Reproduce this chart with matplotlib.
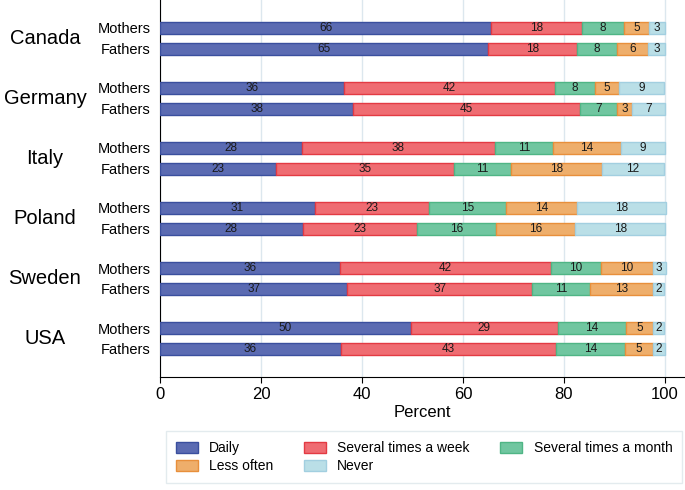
import matplotlib
matplotlib.use("Agg")
import matplotlib.pyplot as plt
import numpy as np
from matplotlib.patches import Patch

plt.rcParams['font.family'] = ['Liberation Sans', 'DejaVu Sans']

countries = ['Canada', 'Germany', 'Italy', 'Poland', 'Sweden', 'USA']
parents = ['Mothers', 'Fathers']
categories = ['Daily', 'Several times a week', 'Several times a month', 'Less often', 'Never']

# one row per country, mothers then fathers
daily = [65.6, 65.0, 36.4, 38.3, 28.1, 23.0, 30.7, 28.3, 35.7, 37.1, 49.7, 35.8]
weekly = [18.0, 17.6, 41.9, 44.9, 38.3, 35.3, 22.6, 22.7, 41.7, 36.6, 29.1, 42.6]
monthly = [8.4, 7.9, 7.9, 7.3, 11.4, 11.2, 15.2, 15.6, 9.9, 11.4, 13.6, 13.8]
less_often = [4.8, 6.2, 4.7, 3.0, 13.6, 18.0, 14.2, 15.7, 10.3, 12.6, 5.2, 5.4]
never = [3.2, 3.3, 8.9, 6.6, 8.6, 12.4, 17.6, 17.7, 2.6, 2.2, 2.3, 2.4]

faces = ['#5b6bb2', '#ef6c72', '#70c6a0', '#eeae6b', '#badfe7']
edges = ['#3a4f9e', '#e33a43', '#4fb585', '#e88f3b', '#a2cfe0']

series = [daily, weekly, monthly, less_often, never]

fig = plt.figure(figsize=(6.85, 4.9), dpi=100)
ax = fig.add_axes([160/685, 1 - 377/490, 1 - 160/685, 377/490])

gap = 60 / 21
ypos = []
for i in range(len(countries)):
    ypos += [i * gap, i * gap + 1]
ypos = np.array(ypos)

left = np.zeros(len(ypos))
for k, vals in enumerate(series):
    vals = np.array(vals)
    ax.barh(ypos, vals, left=left, height=0.6, color=faces[k],
            edgecolor=edges[k], linewidth=1.0, zorder=3)
    for y, l, v in zip(ypos, left, vals):
        ax.text(l + v / 2, y, f"{v:.0f}", ha='center', va='center',
                fontsize=8.5, color='#1a1a1a', zorder=4)
    left += vals

ax.set_xlim(0, 104)
ax.set_ylim(ypos[-1] + (377 - 349) / 21, -28 / 21)
ax.set_xticks([0, 20, 40, 60, 80, 100])
ax.tick_params(axis='x', labelsize=12, length=4)
ax.set_yticks(ypos)
ax.set_yticklabels(parents * len(countries), fontsize=10.5)
ax.tick_params(axis='y', length=0, pad=7)
ax.grid(True, axis='x', color='#dce7ee', linewidth=1, zorder=0)
ax.spines['top'].set_visible(False)
ax.spines['right'].set_visible(False)
ax.set_xlabel('Percent', fontsize=12, labelpad=2)

for i, c in enumerate(countries):
    ax.text(-115 / 525, i * gap + 0.5, c, transform=ax.get_yaxis_transform(),
            ha='center', va='center', fontsize=14.5)

handles = [Patch(facecolor=faces[k], edgecolor=edges[k], label=categories[k]) for k in range(5)]
order = [0, 3, 1, 4, 2]
leg = fig.legend([handles[k] for k in order], [categories[k] for k in order],
                 ncol=3, loc='lower center', bbox_to_anchor=(0.619, 0.0),
                 fontsize=10, frameon=True, fancybox=False, edgecolor='#dde6ea',
                 handlelength=1.6, handleheight=0.9, columnspacing=2.2,
                 borderpad=0.7, labelspacing=0.3)

fig.savefig('out.png', dpi=100)
